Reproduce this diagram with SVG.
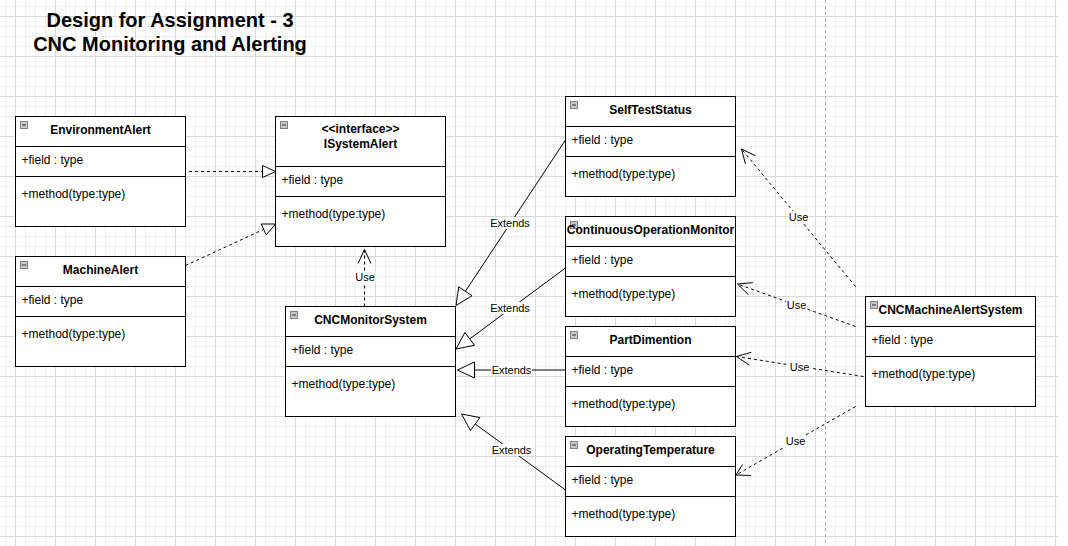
<svg xmlns="http://www.w3.org/2000/svg" width="1068" height="546" viewBox="0 0 1068 546">
<style>
.box{fill:#fff;stroke:#000;stroke-width:1}
.div{stroke:#000;stroke-width:1}
.icon{fill:#c8c8c8;stroke:#808080;stroke-width:1}
.minus{stroke:#333;stroke-width:1}
.name{font-family:"Liberation Sans",Arial,sans-serif;font-size:12px;font-weight:bold;text-anchor:middle;fill:#000}
.member{font-family:"Liberation Sans",Arial,sans-serif;font-size:12px;fill:#000}
.title{font-family:"Liberation Sans",Arial,sans-serif;font-size:20px;font-weight:bold;text-anchor:middle;fill:#000}
.edge{stroke:#000;stroke-width:1;fill:none}
.dash{stroke-dasharray:3 3}
.hollow{fill:#fff;stroke:#000;stroke-width:1}
.open{fill:none;stroke:#000;stroke-width:1}
.lbl{font-family:"Liberation Sans",Arial,sans-serif;font-size:11px;text-anchor:middle;fill:#000}
.lblbg{fill:#fff}
</style>
<defs>
<pattern id="grid" patternUnits="userSpaceOnUse" x="15" y="16" width="40" height="40">
<rect x="10" y="0" width="1" height="40" fill="#f0f0f0"/>
<rect x="20" y="0" width="1" height="40" fill="#f0f0f0"/>
<rect x="30" y="0" width="1" height="40" fill="#f0f0f0"/>
<rect x="0" y="10" width="40" height="1" fill="#f0f0f0"/>
<rect x="0" y="20" width="40" height="1" fill="#f0f0f0"/>
<rect x="0" y="30" width="40" height="1" fill="#f0f0f0"/>
<rect x="0" y="0" width="1" height="40" fill="#d8d8d8"/>
<rect x="0" y="0" width="40" height="1" fill="#d8d8d8"/>
</pattern>
</defs>
<rect x="0" y="0" width="1068" height="546" fill="#fff"/>
<rect x="0" y="0" width="1058" height="546" fill="url(#grid)"/>
<line x1="825.5" y1="0" x2="825.5" y2="546" stroke="#aaaaaa" stroke-dasharray="3 3"/>

<g id="title">
<text class="title" x="170" y="27">Design for Assignment - 3</text>
<text class="title" x="170" y="51">CNC Monitoring and Alerting</text>
</g>

<g id="connectors">
<line class="edge dash" x1="189" y1="171.5" x2="262.5" y2="171.5"/>
<polygon class="hollow" points="275.5,171.5 262.5,165.5 262.5,177.5"/>
<line class="edge dash" x1="185.5" y1="265.5" x2="263.7" y2="229.4"/>
<polygon class="hollow" points="275.5,224 266.2,234.9 261.2,224"/>
<line class="edge dash" x1="364.5" y1="306.5" x2="364.5" y2="249.5"/>
<polyline class="open" points="358,263.5 364.5,249.5 371,263.5"/>
<rect class="lblbg" x="354.5" y="271" width="21" height="12"/>
<text class="lbl" x="365" y="281">Use</text>
<line class="edge" x1="565.5" y1="140" x2="465.4" y2="291.3"/>
<polygon class="hollow" points="456,305.5 458.7,286.9 472.1,295.7"/>
<rect class="lblbg" x="489.5" y="217" width="41" height="12"/>
<text class="lbl" x="510" y="227">Extends</text>
<line class="edge" x1="565.5" y1="268" x2="469.7" y2="338.9"/>
<polygon class="hollow" points="456,349 464.9,332.5 474.5,345.3"/>
<rect class="lblbg" x="489.5" y="302" width="41" height="12"/>
<text class="lbl" x="510" y="312">Extends</text>
<line class="edge" x1="565.5" y1="370" x2="474.5" y2="370"/>
<polygon class="hollow" points="457.5,370 474.5,362 474.5,378"/>
<rect class="lblbg" x="491" y="363.5" width="41" height="12"/>
<text class="lbl" x="511.5" y="373.5">Extends</text>
<line class="edge" x1="565.5" y1="490" x2="475.2" y2="424"/>
<polygon class="hollow" points="461.5,414 479.9,417.6 470.5,430.5"/>
<rect class="lblbg" x="491" y="444" width="41" height="12"/>
<text class="lbl" x="511.5" y="454">Extends</text>
<line class="edge dash" x1="855.5" y1="286.5" x2="741.5" y2="149"/>
<polyline class="open" points="755.4,155.7 741.5,149 745.4,163.9"/>
<rect class="lblbg" x="788" y="211" width="21" height="12"/>
<text class="lbl" x="798.5" y="221">Use</text>
<line class="edge dash" x1="855.5" y1="326.5" x2="737.5" y2="284"/>
<polyline class="open" points="752.9,282.6 737.5,284 748.5,294.8"/>
<rect class="lblbg" x="786" y="299" width="21" height="12"/>
<text class="lbl" x="796.5" y="309">Use</text>
<line class="edge dash" x1="863.5" y1="376.5" x2="736.5" y2="356.5"/>
<polyline class="open" points="751.3,352.3 736.5,356.5 749.3,365.1"/>
<rect class="lblbg" x="789" y="361" width="21" height="12"/>
<text class="lbl" x="799.5" y="371">Use</text>
<line class="edge dash" x1="855.5" y1="406.5" x2="736" y2="475"/>
<polyline class="open" points="742.5,464.5 736,475 751,475.5"/>
<rect class="lblbg" x="785" y="435" width="21" height="12"/>
<text class="lbl" x="795.5" y="445">Use</text>
</g>

<g id="environment-alert" transform="translate(15.5,116.5)">
<rect class="box" width="170" height="110"/>
<line class="div" x1="0" y1="30" x2="170" y2="30"/>
<line class="div" x1="0" y1="60" x2="170" y2="60"/>
<rect class="icon" x="5" y="5" width="7" height="7"/><line class="minus" x1="6.5" y1="8.5" x2="10.5" y2="8.5"/>
<text class="name" x="85" y="17">EnvironmentAlert</text>
<text class="member" x="6" y="47.5">+field : type</text>
<text class="member" x="6" y="81.5">+method(type:type)</text>
</g>

<g id="machine-alert" transform="translate(15.5,256.5)">
<rect class="box" width="170" height="110"/>
<line class="div" x1="0" y1="30" x2="170" y2="30"/>
<line class="div" x1="0" y1="60" x2="170" y2="60"/>
<rect class="icon" x="5" y="5" width="7" height="7"/><line class="minus" x1="6.5" y1="8.5" x2="10.5" y2="8.5"/>
<text class="name" x="85" y="17.5">MachineAlert</text>
<text class="member" x="6" y="47.5">+field : type</text>
<text class="member" x="6" y="81.5">+method(type:type)</text>
</g>

<g id="isystem-alert" transform="translate(275.5,116.5)">
<rect class="box" width="170" height="130"/>
<line class="div" x1="0" y1="50" x2="170" y2="50"/>
<line class="div" x1="0" y1="80" x2="170" y2="80"/>
<rect class="icon" x="5" y="5" width="7" height="7"/><line class="minus" x1="6.5" y1="8.5" x2="10.5" y2="8.5"/>
<text class="name" x="85" y="16.5">&lt;&lt;interface&gt;&gt;</text>
<text class="name" x="85" y="31.5">ISystemAlert</text>
<text class="member" x="6" y="67.5">+field : type</text>
<text class="member" x="6" y="101.5">+method(type:type)</text>
</g>

<g id="cnc-monitor-system" transform="translate(285.5,306.5)">
<rect class="box" width="170" height="110"/>
<line class="div" x1="0" y1="30" x2="170" y2="30"/>
<line class="div" x1="0" y1="60" x2="170" y2="60"/>
<rect class="icon" x="5" y="5" width="7" height="7"/><line class="minus" x1="6.5" y1="8.5" x2="10.5" y2="8.5"/>
<text class="name" x="85" y="17.5">CNCMonitorSystem</text>
<text class="member" x="6" y="47.5">+field : type</text>
<text class="member" x="6" y="81.5">+method(type:type)</text>
</g>

<g id="self-test-status" transform="translate(565.5,96.5)">
<rect class="box" width="170" height="100"/>
<line class="div" x1="0" y1="30" x2="170" y2="30"/>
<line class="div" x1="0" y1="60" x2="170" y2="60"/>
<rect class="icon" x="5" y="5" width="7" height="7"/><line class="minus" x1="6.5" y1="8.5" x2="10.5" y2="8.5"/>
<text class="name" x="85" y="17.5">SelfTestStatus</text>
<text class="member" x="6" y="47.5">+field : type</text>
<text class="member" x="6" y="81.5">+method(type:type)</text>
</g>

<g id="continuous-operation-monitor" transform="translate(565.5,216.5)">
<rect class="box" width="170" height="100"/>
<line class="div" x1="0" y1="30" x2="170" y2="30"/>
<line class="div" x1="0" y1="60" x2="170" y2="60"/>
<rect class="icon" x="5" y="5" width="7" height="7"/><line class="minus" x1="6.5" y1="8.5" x2="10.5" y2="8.5"/>
<text class="name" x="85" y="17.5">ContinuousOperationMonitor</text>
<text class="member" x="6" y="47.5">+field : type</text>
<text class="member" x="6" y="81.5">+method(type:type)</text>
</g>

<g id="part-dimention" transform="translate(565.5,326.5)">
<rect class="box" width="170" height="100"/>
<line class="div" x1="0" y1="30" x2="170" y2="30"/>
<line class="div" x1="0" y1="60" x2="170" y2="60"/>
<rect class="icon" x="5" y="5" width="7" height="7"/><line class="minus" x1="6.5" y1="8.5" x2="10.5" y2="8.5"/>
<text class="name" x="85" y="17.5">PartDimention</text>
<text class="member" x="6" y="47.5">+field : type</text>
<text class="member" x="6" y="81.5">+method(type:type)</text>
</g>

<g id="operating-temperature" transform="translate(565.5,436.5)">
<rect class="box" width="170" height="100"/>
<line class="div" x1="0" y1="30" x2="170" y2="30"/>
<line class="div" x1="0" y1="60" x2="170" y2="60"/>
<rect class="icon" x="5" y="5" width="7" height="7"/><line class="minus" x1="6.5" y1="8.5" x2="10.5" y2="8.5"/>
<text class="name" x="85" y="17.5">OperatingTemperature</text>
<text class="member" x="6" y="47.5">+field : type</text>
<text class="member" x="6" y="81.5">+method(type:type)</text>
</g>

<g id="cnc-machine-alert-system" transform="translate(865.5,296.5)">
<rect class="box" width="170" height="110"/>
<line class="div" x1="0" y1="30" x2="170" y2="30"/>
<line class="div" x1="0" y1="60" x2="170" y2="60"/>
<rect class="icon" x="5" y="5" width="7" height="7"/><line class="minus" x1="6.5" y1="8.5" x2="10.5" y2="8.5"/>
<text class="name" x="85" y="17.5">CNCMachineAlertSystem</text>
<text class="member" x="6" y="47.5">+field : type</text>
<text class="member" x="6" y="81.5">+method(type:type)</text>
</g>
</svg>
